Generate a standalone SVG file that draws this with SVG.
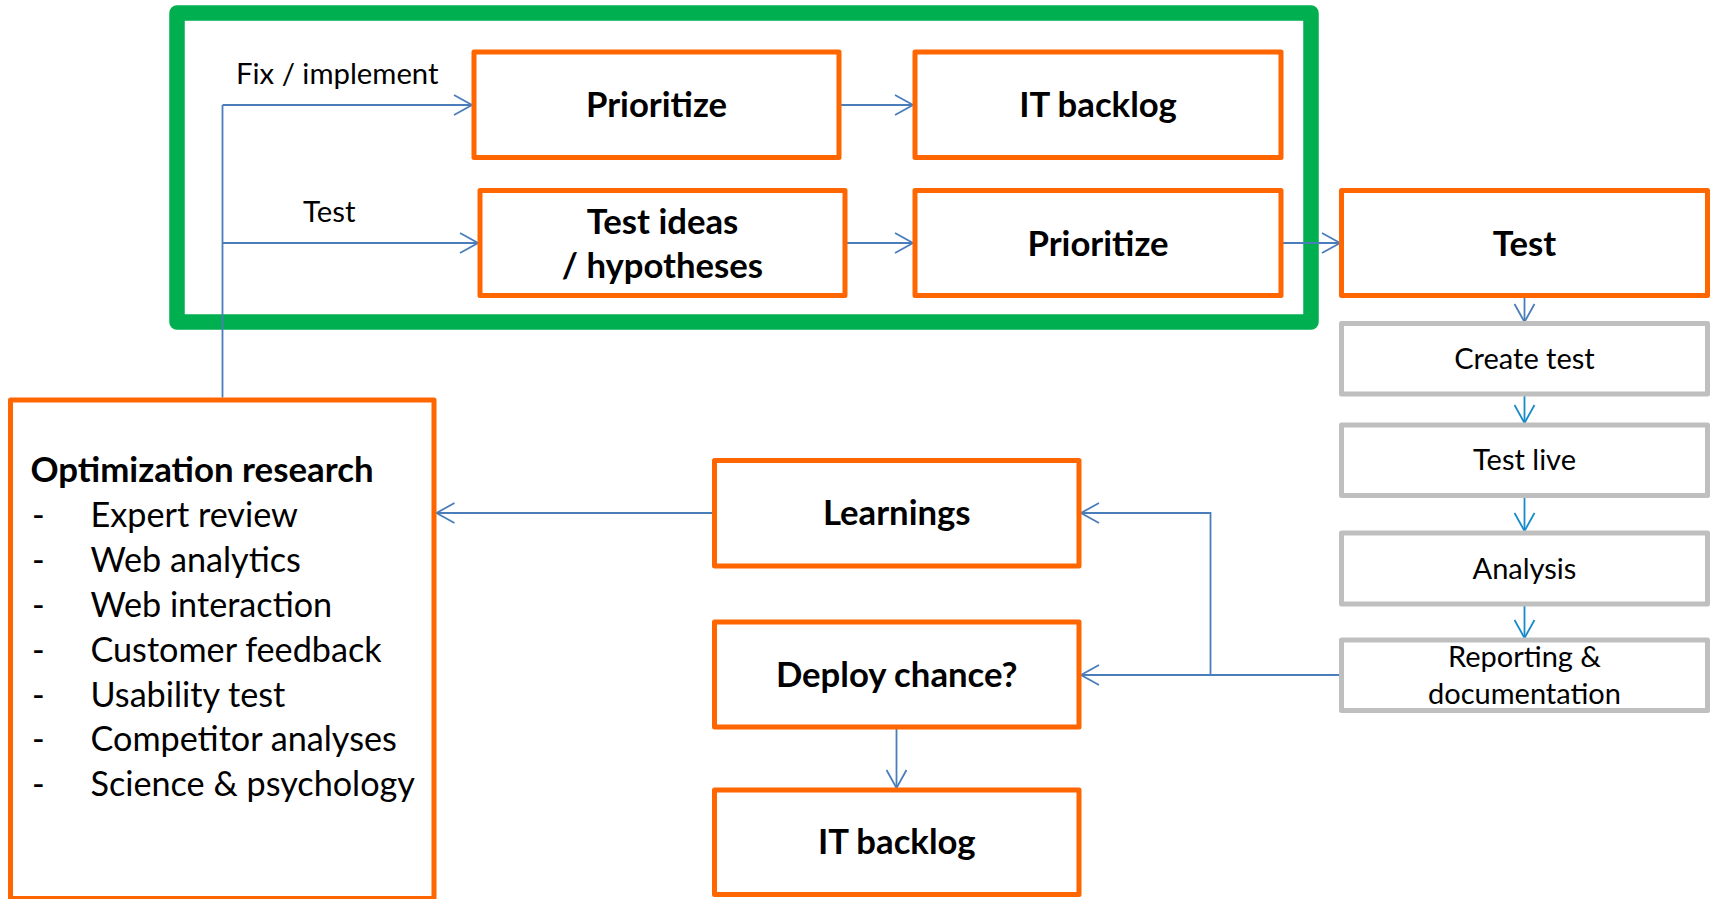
<svg xmlns="http://www.w3.org/2000/svg" width="1713" height="899" viewBox="0 0 1713 899">
<style>
  .frame{fill:none;stroke:#00B050;stroke-width:15.5;stroke-linejoin:round}
  .ob{fill:#fff;stroke:#FF6600;stroke-width:5;stroke-linejoin:round}
  .gb{fill:#fff;stroke:#BFBFBF;stroke-width:5;stroke-linejoin:round}
  .bt{font-family:Lato,"Liberation Sans",sans-serif;font-weight:bold;font-size:34.7px;fill:#000;text-anchor:middle}
  .rt{font-family:Lato,"Liberation Sans",sans-serif;font-size:29px;fill:#000;text-anchor:middle}
  .lt{font-family:Lato,"Liberation Sans",sans-serif;font-size:29.3px;fill:#000}
  .ht{font-family:Lato,"Liberation Sans",sans-serif;font-weight:bold;font-size:34.8px;fill:#000}
  .it{font-family:Lato,"Liberation Sans",sans-serif;font-size:34.2px;fill:#000}
  .c{fill:none;stroke:#4A7EBB;stroke-width:1.8}
  .cc{fill:none;stroke:#1A8BC9;stroke-width:1.8}
</style>
<defs>
  <marker id="ah" markerUnits="userSpaceOnUse" viewBox="0 0 20 22" markerWidth="20" markerHeight="22" refX="19" refY="11" orient="auto">
    <path d="M1,1 L19,11 L1,21" fill="none" stroke="#4A7EBB" stroke-width="1.8"/>
  </marker>
  <marker id="ahc" markerUnits="userSpaceOnUse" viewBox="0 0 20 22" markerWidth="20" markerHeight="22" refX="19" refY="11" orient="auto">
    <path d="M1,1 L19,11 L1,21" fill="none" stroke="#1A8BC9" stroke-width="1.8"/>
  </marker>
</defs>

<g id="frame">
  <rect class="frame" x="177" y="13" width="1134" height="309"/>
</g>

<g id="connectors">
  <path class="c" d="M222.5,397.5 V105"/>
  <path class="c" d="M222.5,105 H472" marker-end="url(#ah)"/>
  <path class="c" d="M222.5,243 H478" marker-end="url(#ah)"/>
  <path class="c" d="M839,105 H913" marker-end="url(#ah)"/>
  <path class="c" d="M845,243 H913" marker-end="url(#ah)"/>
  <path class="c" d="M1281,243 H1340" marker-end="url(#ah)"/>
  <path class="c" d="M1524.5,296 V322" marker-end="url(#ah)"/>
  <path class="cc" d="M1524.5,394 V423" marker-end="url(#ahc)"/>
  <path class="cc" d="M1524.5,495.5 V531" marker-end="url(#ahc)"/>
  <path class="cc" d="M1524.5,604 V638" marker-end="url(#ahc)"/>
  <path class="c" d="M1341,675 H1081" marker-end="url(#ah)"/>
  <path class="c" d="M1210.5,675 V513 H1081" marker-end="url(#ah)"/>
  <path class="c" d="M714,513 H436.5" marker-end="url(#ah)"/>
  <path class="c" d="M896.5,727 V788" marker-end="url(#ah)"/>
</g>

<g id="label-fix"><text class="lt" x="236" y="83.5">Fix / implement</text></g>
<g id="label-test"><text class="lt" x="303" y="221.5">Test</text></g>

<g id="prioritize1">
  <rect class="ob" x="474" y="52" width="365" height="105.5"/>
  <text class="bt" x="656.5" y="117">Prioritize</text>
</g>
<g id="itbacklog1">
  <rect class="ob" x="915" y="52" width="366" height="105.5"/>
  <text class="bt" x="1098" y="117">IT backlog</text>
</g>
<g id="testideas">
  <rect class="ob" x="480" y="190.5" width="365" height="105"/>
  <text class="bt" x="662.5" y="233.5">Test ideas</text>
  <text class="bt" x="662.5" y="277.5">/ hypotheses</text>
</g>
<g id="prioritize2">
  <rect class="ob" x="915" y="190.5" width="366" height="105"/>
  <text class="bt" x="1098" y="255.5">Prioritize</text>
</g>
<g id="test">
  <rect class="ob" x="1341.5" y="190.5" width="366" height="105"/>
  <text class="bt" x="1524.5" y="255.5">Test</text>
</g>
<g id="createtest">
  <rect class="gb" x="1341.5" y="323.5" width="366" height="70.5"/>
  <text class="rt" x="1524.5" y="369">Create test</text>
</g>
<g id="testlive">
  <rect class="gb" x="1341.5" y="425" width="366" height="70.5"/>
  <text class="rt" x="1524.5" y="470">Test live</text>
</g>
<g id="analysis">
  <rect class="gb" x="1341.5" y="533" width="366" height="71"/>
  <text class="rt" x="1524.5" y="579">Analysis</text>
</g>
<g id="reporting">
  <rect class="gb" x="1341.5" y="640" width="366" height="70.5"/>
  <text class="rt" x="1524.5" y="667">Reporting &amp;</text>
  <text class="rt" x="1524.5" y="704">documentation</text>
</g>
<g id="learnings">
  <rect class="ob" x="714.5" y="460.5" width="364.5" height="105.5"/>
  <text class="bt" x="896.75" y="525">Learnings</text>
</g>
<g id="deploy">
  <rect class="ob" x="714.5" y="622" width="364.5" height="105"/>
  <text class="bt" x="896.75" y="686.5">Deploy chance?</text>
</g>
<g id="itbacklog2">
  <rect class="ob" x="714.5" y="790" width="364.5" height="104.5"/>
  <text class="bt" x="896.75" y="854">IT backlog</text>
</g>
<g id="research">
  <rect class="ob" x="10.5" y="400" width="423.5" height="498.5"/>
  <text class="ht" x="30.5" y="481.5">Optimization research</text>
  <text class="it" x="32" y="526.5">-</text><text class="it" x="90.5" y="526.5">Expert review</text>
  <text class="it" x="32" y="571.5">-</text><text class="it" x="90.5" y="571.5">Web analytics</text>
  <text class="it" x="32" y="616.5">-</text><text class="it" x="90.5" y="616.5">Web interaction</text>
  <text class="it" x="32" y="661.5">-</text><text class="it" x="90.5" y="661.5">Customer feedback</text>
  <text class="it" x="32" y="706.5">-</text><text class="it" x="90.5" y="706.5">Usability test</text>
  <text class="it" x="32" y="751">-</text><text class="it" x="90.5" y="751">Competitor analyses</text>
  <text class="it" x="32" y="796">-</text><text class="it" x="90.5" y="796">Science &amp; psychology</text>
</g>
</svg>
